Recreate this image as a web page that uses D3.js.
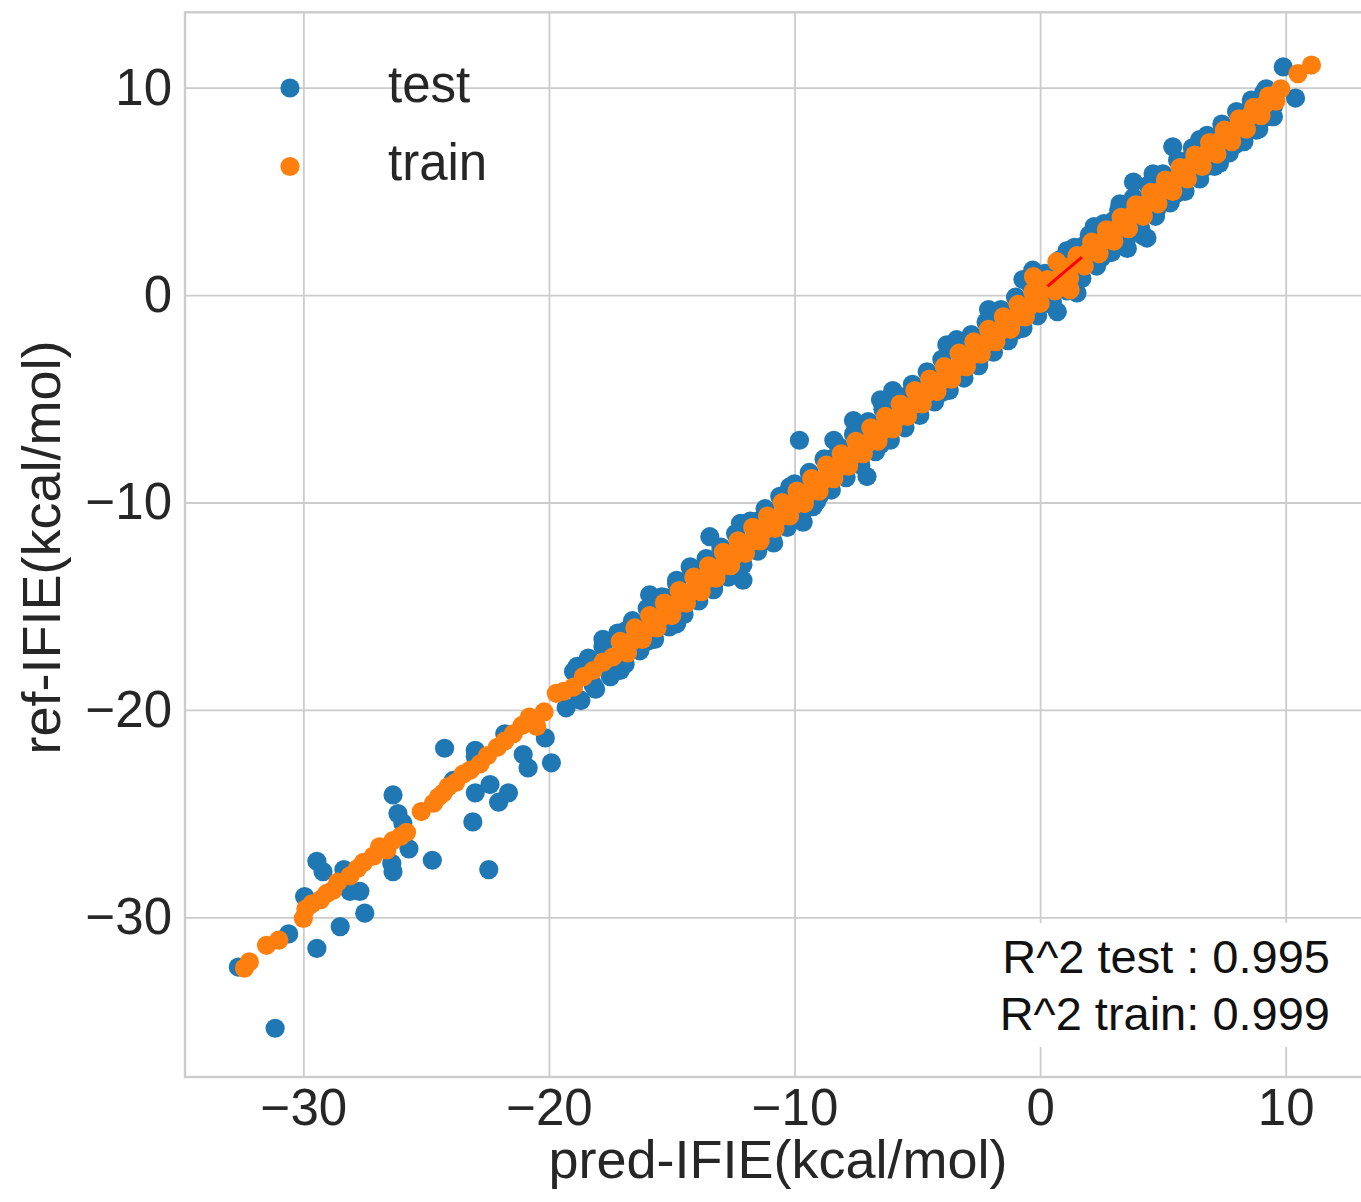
<!DOCTYPE html>
<html>
<head>
<meta charset="utf-8">
<script src="https://cdn.jsdelivr.net/npm/d3@7/dist/d3.min.js"></script>
<style>
  body { margin: 0; background: #ffffff; }
  svg { display: block; font-family: "Liberation Sans", Arial, Helvetica, sans-serif; }
</style>
</head>
<body>
<svg id="chart" width="1361" height="1202"></svg>
<script>
// ---- tick labels and text ----
const xTicks = [-30, -20, -10, 0, 10];
const yTicks = [-30, -20, -10, 0, 10];
const seriesNames = ["test", "train"];
const scoreLabels = ["R^2 test : 0.995", "R^2 train: 0.999"];
const xLabel = "pred-IFIE(kcal/mol)";
const yLabel = "ref-IFIE(kcal/mol)";

// ---- test set: predicted vs reference IFIE ----
const testPred = [
  -32.65, -31.15, -30.6, -29.95, -29.45, -29.45, -29.2, -28.5, -28.35, -28.1,
  -27.7, -27.5, -26.35, -26.4, -26.35, -26.15, -25.95, -25.7, -24.75, -24.25,
  -23.9, -23.0, -23.0, -23.0, -23.1, -22.45, -22.4, -22.05, -21.65, -21.8,
  -21.05, -20.85, -20.15, -19.9, -19.3, -18.85, -18.75, -18.2, -17.8, -17.1,
  -16.9, -16.5, -16.0, -15.9, -15.2, -14.8, -14.8, -14.25, -14.0, -13.45,
  -13.3, -13.0, -12.5, -12.2, -12.1, -11.5, -11.0, -10.85, -10.2, -10.0,
  -9.8, -9.65, -9.25, -9.0, -8.5, -8.4, -8.0, -7.6, -7.05, -7.0,
  -6.5, -6.5, -6.0, -5.5, -5.0, -4.5, -4.0, -3.8, -3.4, -3.0,
  -2.5, -2.1, -1.5, -1.0, -0.7, -0.3, 0.0, 0.3, 0.7, 1.1,
  1.5, 1.8, 2.2, 2.5, 3.0, 3.25, 3.55, 3.8, 4.0, 4.2,
  4.35, 4.6, 4.75, 5.0, 5.4, 5.55, 5.8, 6.2, 6.5, 6.8,
  7.3, 7.45, 8.0, 8.4, 8.6, 8.8, 9.1, 9.25, 9.5, 9.9,
  10.4,
  // points hugging the upper side of the main band
  -19.0, -18.4, -17.8, -17.2, -16.6, -16.0, -15.4, -14.8, -14.2, -13.6,
  -13.0, -12.4, -11.8, -11.2, -10.6, -10.0, -9.4, -8.8, -8.2, -7.6,
  -7.0, -6.4, -5.8, -5.2, -4.6, -4.0, -3.4, -2.8, -2.2, -1.6,
  -1.0, -0.4, 0.2, 0.8, 1.4, 2.0, 2.6, 3.2, 3.8, 4.4,
  5.0, 5.6, 6.2, 6.8, 7.4, 8.0, 8.6, 9.2,
  // points hugging the lower side of the main band
  -18.7, -18.1, -17.5, -16.9, -16.3, -15.7, -15.1, -14.5, -13.9, -13.3,
  -12.7, -12.1, -11.5, -10.9, -10.3, -9.7, -9.1, -8.5, -7.9, -7.3,
  -6.7, -6.1, -5.5, -4.9, -4.3, -3.7, -3.1, -2.5, -1.9, -1.3,
  -0.7, -0.1, 0.5, 1.1, 1.7, 2.3, 2.9, 3.5, 4.1, 4.7,
  5.3, 5.9, 6.5, 7.1, 7.7, 8.3, 8.9, 9.5
];
const testRef = [
  -32.4, -35.35, -30.8, -29.0, -31.5, -27.3, -27.8, -30.45, -27.7, -28.75,
  -28.75, -29.8, -27.8, -27.4, -24.1, -25.0, -25.45, -26.7, -27.25, -21.85,
  -23.4, -21.95, -22.25, -24.0, -25.4, -27.7, -23.6, -24.45, -24.0, -21.15,
  -22.15, -22.8, -21.35, -22.55, -19.9, -17.9, -19.5, -18.8, -16.6, -18.1,
  -16.2, -15.9, -16.7, -14.45, -14.6, -15.85, -13.75, -13.1, -14.7, -11.65,
  -14.05, -12.4, -13.2, -11.0, -13.75, -10.9, -11.7, -11.95, -9.25, -9.4,
  -7.0, -10.95, -10.2, -9.7, -7.9, -7.0, -8.7, -6.05, -8.75, -6.4,
  -5.05, -7.2, -4.6, -4.9, -5.7, -3.9, -4.7, -2.4, -2.15, -2.4,
  -3.2, -0.7, -0.9, -1.7, 0.75, 1.2, 0.6, -0.4, -0.8, 2.15,
  0.1, 2.4, 3.3, 1.8, 3.6, 4.4, 2.25, 5.45, 3.4, 2.85,
  2.75, 5.85, 4.15, 5.6, 7.15, 4.9, 5.2, 6.8, 7.5, 6.2,
  6.35, 8.1, 7.3, 8.45, 9.1, 7.95, 9.75, 8.6, 9.1, 11.0,
  9.5,
  -18.15, -17.5, -16.95, -16.3, -15.7, -15.1, -14.55, -13.9, -13.3, -12.7,
  -12.15, -11.5, -10.9, -10.3, -9.7, -9.1, -8.55, -7.9, -7.3, -6.7,
  -6.1, -5.5, -4.95, -4.3, -3.7, -3.1, -2.55, -1.9, -1.3, -0.7,
  -0.1, 0.5, 1.05, 1.7, 2.3, 2.9, 3.45, 4.1, 4.7, 5.3,
  5.85, 6.5, 7.1, 7.7, 8.25, 8.85, 9.4, 9.95,
  -19.55, -19.0, -18.4, -17.8, -17.15, -16.6, -16.0, -15.4, -14.75, -14.2,
  -13.6, -13.0, -12.35, -11.8, -11.2, -10.6, -9.95, -9.4, -8.8, -8.2,
  -7.55, -7.0, -6.4, -5.8, -5.15, -4.6, -4.0, -3.4, -2.75, -2.2,
  -1.6, -1.0, -0.35, 0.2, 0.8, 1.4, 2.05, 2.6, 3.2, 3.8,
  4.45, 5.0, 5.6, 6.2, 6.85, 7.4, 8.0, 8.6
];

// ---- training set: predicted vs reference IFIE ----
const trainPred = [
  -32.4, -32.2, -31.5, -31.0, -30.0, -29.9, -29.65, -29.3, -29.05, -28.8,
  -28.6, -28.1, -27.8, -27.55, -27.15, -26.9, -26.6, -26.35, -26.05, -25.8,
  -25.2, -24.7, -24.5, -24.3, -24.1, -23.8, -23.5, -23.2, -22.8, -22.5,
  -22.1, -21.8, -21.45, -21.1, -20.8, -20.5, -20.2, -19.7, -19.4, -19.0,
  -18.6, -18.2, -17.8, -17.4,
  -17.1, -16.8, -16.5, -16.2, -15.9, -15.6, -15.3, -15.0, -14.7, -14.4,
  -14.1, -13.8, -13.5, -13.2, -12.9, -12.6, -12.3, -12.0, -11.7, -11.4,
  -11.1, -10.8, -10.5, -10.2, -9.9, -9.6, -9.3, -9.0, -8.7, -8.4,
  -8.1, -7.8, -7.5, -7.2, -6.9, -6.6, -6.3, -6.0, -5.7, -5.4,
  -5.1, -4.8, -4.5, -4.2, -3.9, -3.6, -3.3, -3.0, -2.7, -2.4,
  -2.1, -1.8, -1.5, -1.2, -0.9, -0.6, -0.3, 0.0, 0.3, 0.6,
  0.9, 1.2, 1.5, 1.8, 2.1, 2.4, 2.7, 3.0, 3.3, 3.6,
  3.9, 4.2, 4.5, 4.8, 5.1, 5.4, 5.7, 6.0, 6.3, 6.6,
  6.9, 7.2, 7.5, 7.8, 8.1, 8.4, 8.7, 9.0, 9.3, 9.6,
  9.8, -0.27, 0.68, 1.22, 10.5, 11.05,
  // points along the centre of the main band
  -16.95, -16.65, -16.35, -16.05, -15.75, -15.45, -15.15, -14.85, -14.55, -14.25,
  -13.95, -13.65, -13.35, -13.05, -12.75, -12.45, -12.15, -11.85, -11.55, -11.25,
  -10.95, -10.65, -10.35, -10.05, -9.75, -9.45, -9.15, -8.85, -8.55, -8.25,
  -7.95, -7.65, -7.35, -7.05, -6.75, -6.45, -6.15, -5.85, -5.55, -5.25,
  -4.95, -4.65, -4.35, -4.05, -3.75, -3.45, -3.15, -2.85, -2.55, -2.25,
  -1.95, -1.65, -1.35, -1.05, -0.75, -0.45, -0.15, 0.15, 0.45, 0.75,
  1.05, 1.35, 1.65, 1.95, 2.25, 2.55, 2.85, 3.15, 3.45, 3.75,
  4.05, 4.35, 4.65, 4.95, 5.25, 5.55, 5.85, 6.15, 6.45, 6.75,
  7.05, 7.35, 7.65, 7.95, 8.25, 8.55, 8.85, 9.15, 9.45
];
const trainRef = [
  -32.45, -32.15, -31.35, -31.1, -30.05, -29.6, -29.35, -29.15, -28.85, -28.7,
  -28.3, -28.0, -27.65, -27.35, -27.05, -26.6, -26.75, -26.3, -26.1, -25.9,
  -24.9, -24.5, -24.2, -24.0, -23.7, -23.5, -23.1, -22.9, -22.6, -22.2,
  -21.8, -21.5, -21.15, -20.75, -20.35, -20.8, -20.1, -19.2, -19.1, -18.9,
  -18.4, -18.1, -17.7, -17.45,
  -16.7, -17.25, -16.05, -16.6, -15.45, -16.05, -14.85, -15.45, -14.25, -14.85,
  -13.6, -14.3, -13.05, -13.65, -12.4, -13.05, -11.85, -12.45, -11.2, -11.85,
  -10.65, -11.25, -10.0, -10.65, -9.45, -10.05, -8.85, -9.45, -8.2, -8.85,
  -7.65, -8.25, -7.05, -7.65, -6.4, -7.05, -5.85, -6.45, -5.25, -5.85,
  -4.6, -5.25, -4.05, -4.65, -3.45, -4.05, -2.8, -3.45, -2.25, -2.85,
  -1.65, -2.25, -1.05, -1.65, -0.45, -1.05, 0.15, -0.4, 0.75, 0.2,
  1.35, 0.8, 1.9, 1.4, 2.55, 2.0, 3.15, 2.6, 3.75, 3.2,
  4.35, 3.8, 4.95, 4.4, 5.55, 5.0, 6.15, 5.6, 6.75, 6.2,
  7.35, 6.8, 7.95, 7.4, 8.5, 8.0, 9.05, 8.65, 9.6, 9.35,
  9.95, 0.89, 1.61, 0.25, 10.68, 11.09,
  -16.85, -16.7, -16.3, -16.15, -15.65, -15.55, -15.1, -14.95, -14.45, -14.35,
  -13.9, -13.75, -13.25, -13.15, -12.7, -12.55, -12.05, -11.95, -11.5, -11.35,
  -10.85, -10.75, -10.3, -10.15, -9.65, -9.55, -9.1, -8.95, -8.45, -8.35,
  -7.9, -7.75, -7.25, -7.15, -6.7, -6.55, -6.05, -5.95, -5.5, -5.35,
  -4.85, -4.75, -4.3, -4.15, -3.65, -3.55, -3.1, -2.95, -2.45, -2.35,
  -1.9, -1.75, -1.25, -1.15, -0.7, -0.55, -0.05, 0.25, 0.55, 0.8,
  1.0, 1.45, 1.8, 2.05, 2.4, 2.6, 3.0, 3.2, 3.6, 3.85,
  4.2, 4.4, 4.8, 5.05, 5.4, 5.6, 6.0, 6.25, 6.6, 6.8,
  7.2, 7.45, 7.8, 8.0, 8.4, 8.65, 9.0, 9.2, 9.6
];

// ---- fitted line segment ----
const fitPred = [0.3, 1.7];
const fitRef = [0.42, 1.83];

// ---- layout ----
const plot = { left: 185, right: 1366, top: 12.3, bottom: 1077 };
const colors = { test: "#1f77b4", train: "#ff7f0e", grid: "#cccccc", text: "#262626" };
const markerR = 9.6;

const svg = d3.select("#chart");

const x = d3.scaleLinear().domain([-34.82, 13.27]).range([plot.left, plot.right]);
const y = d3.scaleLinear().domain([-37.70, 13.635]).range([plot.bottom, plot.top]);

// grid + tick labels via axes
const xAxis = svg.append("g")
  .attr("transform", `translate(0,${plot.bottom})`)
  .call(d3.axisBottom(x).tickValues(xTicks).tickSize(-(plot.bottom - plot.top)).tickPadding(12));
const yAxis = svg.append("g")
  .attr("transform", `translate(${plot.left},0)`)
  .call(d3.axisLeft(y).tickValues(yTicks).tickSize(-(plot.right - plot.left)).tickPadding(13));

[xAxis, yAxis].forEach(g => {
  g.select(".domain").remove();
  g.selectAll(".tick line").attr("stroke", colors.grid).attr("stroke-width", 1.8);
  g.selectAll(".tick text")
    .attr("fill", colors.text)
    .style("font-size", "51px")
    .style("font-family", "'Liberation Sans', Arial, sans-serif");
});

// axes frame
svg.append("rect")
  .attr("x", plot.left).attr("y", plot.top)
  .attr("width", plot.right - plot.left).attr("height", plot.bottom - plot.top)
  .attr("fill", "none").attr("stroke", colors.grid).attr("stroke-width", 2.4);

// scatter points
const testData = testPred.map((p, i) => ({ p, r: testRef[i] }));
const trainData = trainPred.map((p, i) => ({ p, r: trainRef[i] }));

svg.append("g").selectAll("circle").data(testData).join("circle")
  .attr("cx", d => x(d.p)).attr("cy", d => y(d.r)).attr("r", markerR)
  .attr("fill", colors.test);

svg.append("g").selectAll("circle").data(trainData).join("circle")
  .attr("cx", d => x(d.p)).attr("cy", d => y(d.r)).attr("r", markerR)
  .attr("fill", colors.train);

// fitted line
svg.append("path")
  .datum(fitPred.map((p, i) => [p, fitRef[i]]))
  .attr("d", d3.line().x(d => x(d[0])).y(d => y(d[1])))
  .attr("stroke", "#ff0000").attr("stroke-width", 3).attr("fill", "none");

// score text box
svg.append("rect")
  .attr("x", 990).attr("y", 923).attr("width", 355).attr("height", 124)
  .attr("fill", "#ffffff");
svg.append("g").selectAll("text").data(scoreLabels).join("text")
  .attr("x", 1330).attr("y", (d, i) => 973 + i * 57)
  .attr("text-anchor", "end")
  .attr("fill", "#111111")
  .style("font-size", "47px")
  .text(d => d);

// legend
const legend = svg.append("g");
seriesNames.forEach((name, i) => {
  legend.append("circle")
    .attr("cx", 290).attr("cy", 88 + i * 78.5).attr("r", markerR)
    .attr("fill", colors[name]);
  legend.append("text")
    .attr("x", 388).attr("y", 101.5 + i * 78.5)
    .attr("fill", colors.text)
    .style("font-size", "51px")
    .text(name);
});

// axis titles
svg.append("text")
  .attr("x", 778).attr("y", 1178)
  .attr("text-anchor", "middle")
  .attr("fill", colors.text)
  .style("font-size", "54px")
  .text(xLabel);
svg.append("text")
  .attr("transform", "translate(60,547.5) rotate(-90)")
  .attr("text-anchor", "middle")
  .attr("fill", colors.text)
  .style("font-size", "54px")
  .text(yLabel);
</script>
</body>
</html>
